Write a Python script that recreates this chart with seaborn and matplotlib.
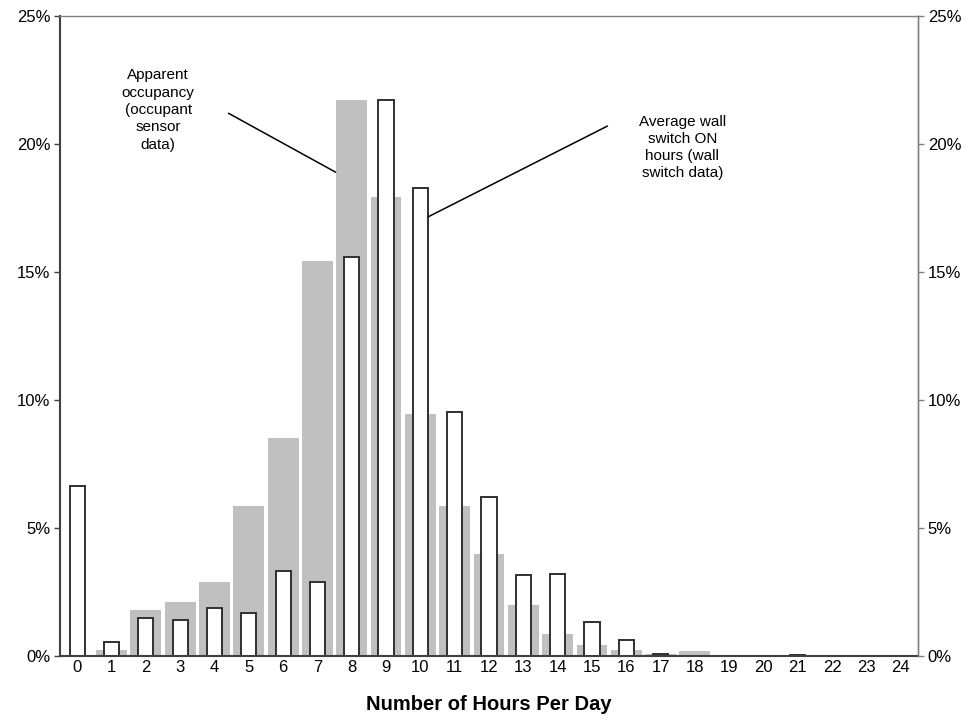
import matplotlib
matplotlib.use("Agg")
import matplotlib.pyplot as plt
import pandas as pd
import seaborn as sns
from matplotlib.ticker import FuncFormatter, MultipleLocator
from matplotlib.patches import Rectangle

# hours per day, 0..24
hours = list(range(25))

# apparent occupancy (occupant sensor data), % of days
occupancy_pct = [0.0, 0.23, 1.80, 2.11, 2.89, 5.86, 8.52, 15.43, 21.70, 17.94,
                 9.45, 5.86, 3.98, 1.99, 0.86, 0.43, 0.23, 0.08, 0.20, 0.0,
                 0.0, 0.0, 0.0, 0.0, 0.0]

# average wall switch ON hours (wall switch data), % of days
wallswitch_pct = [6.65, 0.55, 1.47, 1.41, 1.86, 1.67, 3.33, 2.90, 15.60, 21.70,
                  18.30, 9.54, 6.22, 3.16, 3.21, 1.34, 0.62, 0.09, 0.0, 0.0,
                  0.0, 0.04, 0.0, 0.0, 0.0]

y_ticks = [0, 5, 10, 15, 20, 25]

df = pd.DataFrame({
    "Hours": [str(h) for h in hours],
    "Occupancy": occupancy_pct,
    "WallSwitch": wallswitch_pct,
})
order = [str(h) for h in hours]

sns.set_style("white")
plt.rcParams["font.family"] = ["Liberation Sans", "DejaVu Sans"]
plt.rcParams["text.color"] = "black"
plt.rcParams["axes.labelcolor"] = "black"
plt.rcParams["xtick.labelcolor"] = "black"
plt.rcParams["ytick.labelcolor"] = "black"

fig = plt.figure(figsize=(9.71, 7.23), dpi=100)
ax = fig.add_axes([60 / 971, 1 - 656 / 723, 858 / 971, 640 / 723])

sns.barplot(data=df, x="Hours", y="Occupancy", order=order, color="#c0c0c0",
            width=0.9, saturation=1, edgecolor="none", ax=ax, zorder=1)
sns.barplot(data=df, x="Hours", y="WallSwitch", order=order, color="white",
            width=0.44, saturation=1, edgecolor="#303030", linewidth=1.4,
            ax=ax, zorder=2)

ax.set_xlim(-0.5, 24.5)
ax.set_ylim(0, 25)
ax.yaxis.set_major_locator(MultipleLocator(5))
ax.yaxis.set_major_formatter(FuncFormatter(lambda v, p: f"{v:.0f}%"))
ax.tick_params(axis="y", direction="out", length=4, width=1, color="#404040",
               labelsize=12, pad=3, left=True)
ax.tick_params(axis="x", length=0, labelsize=12, pad=3)
ax.set_xlabel("Number of Hours Per Day", fontsize=14.5, fontweight="bold",
              labelpad=14)
ax.set_ylabel("")

for side in ["left", "bottom"]:
    ax.spines[side].set_color("#404040")
    ax.spines[side].set_linewidth(1.5)
ax.spines["top"].set_color("#808080")
ax.spines["top"].set_linewidth(1)
ax.spines["right"].set_color("#808080")
ax.spines["right"].set_linewidth(1)

ax2 = ax.twinx()
ax2.set_ylim(0, 25)
ax2.set_yticks(y_ticks)
ax2.yaxis.set_major_formatter(FuncFormatter(lambda v, p: f"{v:.0f}%"))
ax2.tick_params(axis="y", direction="out", length=4, width=1, color="#808080",
                labelsize=12, pad=3, right=True)
for side in ["left", "bottom", "top"]:
    ax2.spines[side].set_visible(False)
ax2.spines["right"].set_color("#808080")
ax2.spines["right"].set_linewidth(1)

# callout labels
ax.plot([4.41, 7.53], [21.2, 18.9], color="black", lw=1.1, zorder=3)
ax.plot([15.45, 10.22], [20.7, 17.15], color="black", lw=1.1, zorder=3)

t1 = ax.text(2.36, 22.95, "Apparent\noccupancy\n(occupant\nsensor\ndata)",
             ha="center", va="top", multialignment="center", fontsize=11,
             linespacing=1.3)
# the source box cuts off the bottom of the last line
clip_rect = Rectangle((-0.5, 19.84), 25, 6, transform=ax.transData,
                      visible=False)
ax.add_patch(clip_rect)
t1.set_clip_path(clip_rect)

ax.text(17.63, 21.15, "Average wall\nswitch ON\nhours (wall\nswitch data)",
        ha="center", va="top", multialignment="center", fontsize=11,
        linespacing=1.3)

fig.savefig("out.png", dpi=100)
